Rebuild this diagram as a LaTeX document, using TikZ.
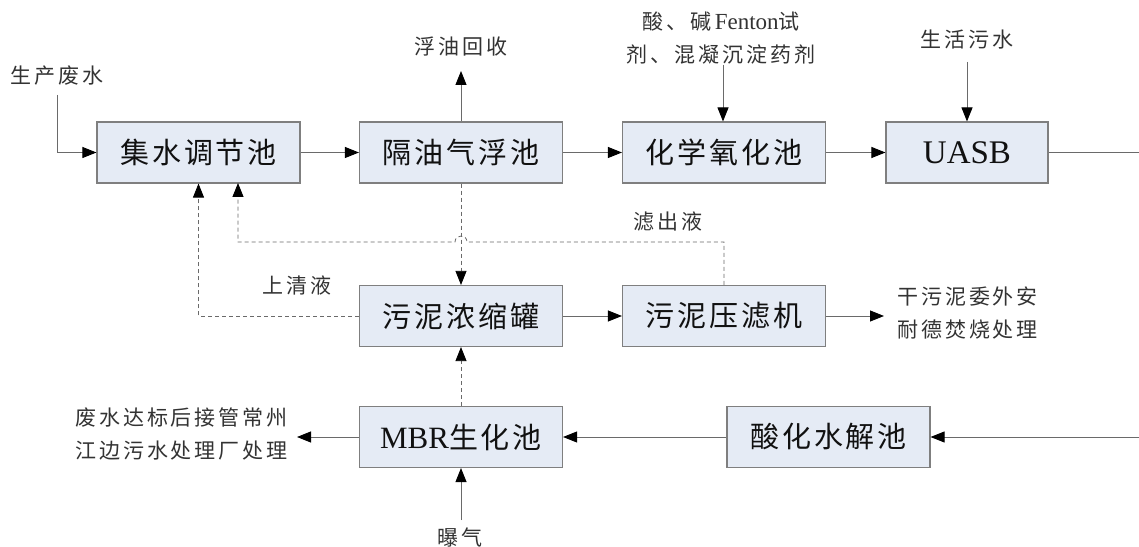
\documentclass[tikz,border=0pt]{standalone}
\usepackage{fontspec}
\setmainfont{Liberation Serif}
\newfontfamily\cjk{Noto Sans CJK SC}
\usetikzlibrary{arrows.meta}
\definecolor{boxfill}{HTML}{E5EBF5}
\definecolor{boxline}{HTML}{7F7F7F}
\definecolor{wire}{HTML}{6A6A6A}
\definecolor{txt}{HTML}{111111}
\definecolor{lbl}{HTML}{333333}
\begin{document}
\begin{tikzpicture}[x=1bp,y=-1bp,
  box/.style={draw=boxline,line width=1.1bp,fill=boxfill,minimum width=203bp,minimum height=61bp,inner sep=0pt,text=txt,font=\cjk\fontsize{29bp}{34bp}\selectfont\addfontfeature{LetterSpace=10}},
  lab/.style={text=lbl,inner sep=0pt,align=center,font=\cjk\fontsize{21bp}{33bp}\selectfont\addfontfeature{LetterSpace=14}},
  wireline/.style={draw=wire,line width=0.9bp},
  tip/.style={-{Triangle[length=14bp,width=11bp,color=black,fill=black]}},
  ar/.style={wireline,tip},
  dsh/.style={draw=wire,line width=0.8bp,dash pattern=on 4bp off 3bp,tip}
]
\useasboundingbox (0,0) rectangle (1139,547);
\fill[white] (0,0) rectangle (1139,547);
% boxes
\node[box] (b1) at (198.5,152.5) {集水调节池};
\node[box] (b2) at (461,152.5) {隔油气浮池};
\node[box] (b3) at (724,152.5) {化学氧化池};
\node[box,minimum width=162bp] (b4) at (967,152.5) {{\rmfamily\fontsize{33bp}{36bp}\selectfont UASB}};
\node[box] (b5) at (461,316) {污泥浓缩罐};
\node[box] (b6) at (724,316) {污泥压滤机};
\node[box] (b7) at (461,437) {{\rmfamily\fontsize{31bp}{36bp}\selectfont MBR}生化池};
\node[box] (b8) at (828.5,437) {酸化水解池};
% labels
\node[lab] (l1) at (57,76) {生产废水};
\node[lab] (l2) at (461,47) {浮油回收};
\node[lab] (l3) at (721,38) {酸、碱\,{\rmfamily\fontsize{23bp}{33bp}\selectfont Fenton}试\\剂、混凝沉淀药剂};
\node[lab] (l4) at (967,40) {生活污水};
\node[lab] (l5) at (297,285) {上清液};
\node[lab] (l6) at (668,222) {滤出液};
\node[lab,align=left,anchor=west] (l7) at (897,313) {干污泥委外安\\耐德焚烧处理};
\node[lab,align=left,anchor=west] (l8) at (75,434) {废水达标后接管常州\\江边污水处理厂处理};
\node[lab] (l9) at (460,537) {曝气};
% coordinates
\coordinate (p1) at (57,95);
\coordinate (p2) at (461,71);
\coordinate (p3) at (723,65);
\coordinate (p4) at (967,62);
\coordinate (p5) at (1139,152.5);
\coordinate (p6) at (1139,437);
\coordinate (p7) at (297,437);
\coordinate (p8) at (461,520);
\coordinate (p9) at (884,316);
\coordinate (h1) at (724,242);
\coordinate (h2) at (467,242);
\coordinate (h3) at (455,242);
\coordinate (h4) at (238,242);
\coordinate (t1) at (238,183);
% solid connectors
\draw[ar] (p1) |- (b1.west);
\draw[ar] (b1) -- (b2);
\draw[ar] (b2) -- (b3);
\draw[ar] (b3) -- (b4);
\draw[wireline] (b4.east) -- (p5);
\draw[ar] (b2.north) -- (p2);
\draw[ar] (p3) -- (p3 |- b3.north);
\draw[ar] (p4) -- (b4.north);
\draw[ar] (b5) -- (b6);
\draw[ar] (b6.east) -- (p9);
\draw[ar] (p6) -- (b8.east);
\draw[ar] (b8) -- (b7);
\draw[ar] (b7.west) -- (p7);
\draw[ar] (p8) -- (b7.south);
% dashed connectors
\draw[dsh] (b2.south) -- (b5.north);
\draw[dsh] (b7.north) -- (b5.south);
\draw[dsh] (b5.west) -| (b1.south);
\draw[dsh] (b6.north) -- (h1) -- (h2) .. controls (467,234) and (455,234) .. (h3) -- (h4) -- (t1);
\end{tikzpicture}
\end{document}
